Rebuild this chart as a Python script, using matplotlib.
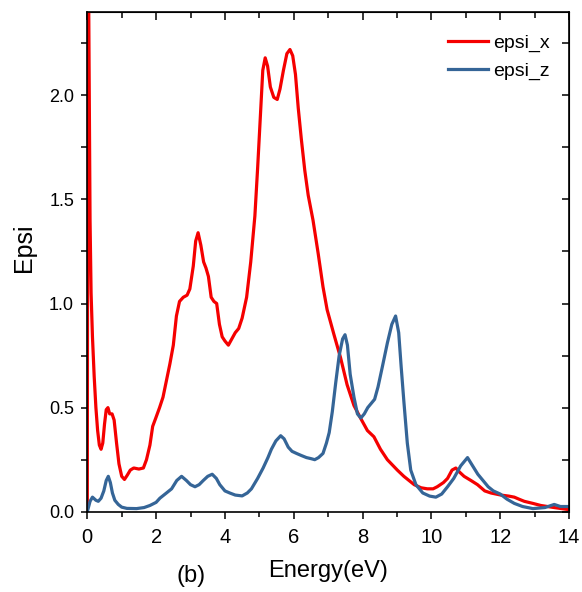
import matplotlib
matplotlib.use("Agg")
import matplotlib.pyplot as plt
from matplotlib.ticker import MultipleLocator

# --- data ---
energy_x = [0.0, 0.02, 0.05, 0.08, 0.11, 0.15, 0.20, 0.25, 0.30, 0.35, 0.40, 0.45,
            0.50, 0.55, 0.60, 0.65, 0.72, 0.78, 0.85, 0.92, 1.00, 1.08, 1.16, 1.25,
            1.35, 1.50, 1.63, 1.72, 1.82, 1.90, 1.99, 2.10, 2.20, 2.30, 2.40, 2.50,
            2.59, 2.68, 2.79, 2.90, 2.98, 3.08, 3.15, 3.22, 3.30, 3.38, 3.45, 3.52,
            3.60, 3.68, 3.76, 3.84, 3.92, 4.00, 4.10, 4.20, 4.30, 4.40, 4.50, 4.63,
            4.75, 4.87, 4.95, 5.03, 5.10, 5.17, 5.24, 5.32, 5.42, 5.52, 5.60, 5.70,
            5.80, 5.89, 5.97, 6.05, 6.13, 6.22, 6.32, 6.42, 6.56, 6.71, 6.85, 6.97,
            7.17, 7.36, 7.55, 7.75, 7.94, 8.14, 8.33, 8.52, 8.72, 9.01, 9.20, 9.50,
            9.70, 9.88, 10.05, 10.17, 10.35, 10.47, 10.60, 10.71, 10.82, 10.95, 11.15,
            11.34, 11.55, 11.73, 12.02, 12.25, 12.41, 12.55, 12.70, 12.95, 13.18,
            13.57, 14.0]
epsi_x = [0.0, 3.0, 2.2, 1.4, 1.05, 0.84, 0.65, 0.50, 0.39, 0.32, 0.30, 0.33,
          0.42, 0.49, 0.50, 0.47, 0.47, 0.44, 0.33, 0.23, 0.17, 0.155, 0.175, 0.20,
          0.21, 0.205, 0.21, 0.25, 0.32, 0.41, 0.45, 0.50, 0.55, 0.63, 0.71, 0.80,
          0.94, 1.01, 1.03, 1.04, 1.07, 1.18, 1.30, 1.34, 1.28, 1.20, 1.17, 1.13,
          1.03, 1.01, 1.00, 0.90, 0.84, 0.82, 0.80, 0.83, 0.86, 0.88, 0.93, 1.03,
          1.20, 1.42, 1.65, 1.90, 2.12, 2.18, 2.14, 2.04, 1.99, 1.98, 2.03, 2.12,
          2.20, 2.22, 2.19, 2.10, 1.94, 1.79, 1.64, 1.52, 1.40, 1.24, 1.08, 0.97,
          0.85, 0.74, 0.61, 0.51, 0.45, 0.39, 0.36, 0.30, 0.25, 0.20, 0.17, 0.13,
          0.115, 0.11, 0.11, 0.12, 0.14, 0.16, 0.20, 0.21, 0.19, 0.17, 0.15,
          0.13, 0.10, 0.09, 0.08, 0.075, 0.07, 0.06, 0.05, 0.04, 0.03,
          0.02, 0.01]

energy_z = [0.0, 0.08, 0.15, 0.25, 0.32, 0.40, 0.48, 0.55, 0.61, 0.67, 0.73, 0.80,
            0.90, 1.00, 1.15, 1.43, 1.65, 1.82, 2.00, 2.11, 2.30, 2.45, 2.60, 2.74,
            2.88, 3.00, 3.13, 3.25, 3.37, 3.50, 3.63, 3.75, 3.85, 4.00, 4.14, 4.30,
            4.50, 4.65, 4.77, 4.95, 5.11, 5.25, 5.35, 5.48, 5.62, 5.72, 5.84, 5.95,
            6.08, 6.22, 6.37, 6.50, 6.61, 6.72, 6.85, 6.95, 7.03, 7.12, 7.22, 7.32,
            7.42, 7.49, 7.56, 7.64, 7.75, 7.85, 7.95, 8.05, 8.15, 8.25, 8.35, 8.45,
            8.58, 8.72, 8.85, 8.96, 9.05, 9.12, 9.20, 9.30, 9.40, 9.55, 9.75, 9.95,
            10.13, 10.30, 10.47, 10.65, 10.85, 11.05, 11.20, 11.35, 11.50, 11.65,
            11.80, 12.00, 12.20, 12.41, 12.65, 12.95, 13.30, 13.57, 13.75, 14.0]
epsi_z = [0.0, 0.05, 0.07, 0.055, 0.05, 0.065, 0.10, 0.15, 0.17, 0.14, 0.09, 0.055,
          0.035, 0.022, 0.016, 0.015, 0.02, 0.03, 0.045, 0.065, 0.09, 0.11, 0.15, 0.17,
          0.15, 0.13, 0.12, 0.13, 0.15, 0.17, 0.18, 0.16, 0.13, 0.10, 0.09, 0.08,
          0.076, 0.09, 0.11, 0.16, 0.21, 0.26, 0.30, 0.34, 0.365, 0.35, 0.31, 0.29,
          0.28, 0.27, 0.26, 0.255, 0.25, 0.26, 0.28, 0.33, 0.38, 0.48, 0.62, 0.75,
          0.83, 0.85, 0.80, 0.66, 0.55, 0.47, 0.45, 0.47, 0.50, 0.52, 0.54, 0.60,
          0.70, 0.81, 0.90, 0.94, 0.86, 0.70, 0.53, 0.33, 0.20, 0.13, 0.09, 0.075,
          0.07, 0.085, 0.12, 0.16, 0.22, 0.26, 0.22, 0.18, 0.15, 0.12,
          0.10, 0.085, 0.06, 0.04, 0.025, 0.015, 0.02, 0.035, 0.025, 0.025]

series_labels = ["epsi_x", "epsi_z"]

# --- style ---
plt.rcParams['font.family'] = ['Liberation Sans', 'DejaVu Sans']
RED = '#f50000'
BLUE = '#356597'

fig = plt.figure(figsize=(5.82, 5.92), dpi=100)
ax = fig.add_axes([0.150, 0.1356, 0.8277, 0.8441])

ax.plot(energy_x, epsi_x, color=RED, lw=2.3, label=series_labels[0])
ax.plot(energy_z, epsi_z, color=BLUE, lw=2.3, label=series_labels[1])

ax.set_xlim(0, 14)
ax.set_ylim(0, 2.4)
ax.xaxis.set_major_locator(MultipleLocator(2))
ax.xaxis.set_minor_locator(MultipleLocator(1))
ax.yaxis.set_major_locator(MultipleLocator(0.5))
ax.yaxis.set_minor_locator(MultipleLocator(0.25))
ax.yaxis.set_major_formatter(plt.FormatStrFormatter('%.1f'))
ax.tick_params(which='both', direction='out', width=1.1)
ax.tick_params(axis='x', which='major', length=5, pad=7, labelsize=14.5)
ax.tick_params(axis='x', which='minor', length=3.5)
ax.tick_params(axis='y', which='both', length=4.5, pad=5, labelsize=13)
for s in ax.spines.values():
    s.set_linewidth(1.2)

# top / right ticks point inward
top = ax.secondary_xaxis('top')
top.xaxis.set_major_locator(MultipleLocator(2))
top.xaxis.set_minor_locator(MultipleLocator(1))
top.tick_params(which='both', direction='in', width=1.1, labeltop=False)
top.tick_params(which='major', length=6)
top.tick_params(which='minor', length=4)
right = ax.secondary_yaxis('right')
right.yaxis.set_major_locator(MultipleLocator(0.25))
right.tick_params(which='both', direction='in', width=1.1, length=5, labelright=False)

ax.set_xlabel("Energy(eV)", fontsize=17, labelpad=9)
fig.text(190.7 / 582, 1 - 576 / 592, "(b)", fontsize=17, ha='center', va='center')
fig.text(24 / 582, 1 - 247.5 / 592, "Epsi", fontsize=18, rotation=90,
         ha='center', va='center')

ax.legend(loc='upper right', bbox_to_anchor=(0.977, 0.972), frameon=False,
          fontsize=14, handlelength=2.05, handletextpad=0.3, labelspacing=0.55,
          borderaxespad=0.0)

fig.savefig("out.png", dpi=100)
